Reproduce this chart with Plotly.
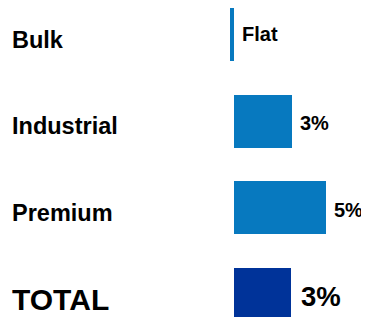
import plotly.graph_objects as go

# ---- data ----
categories = ["Bulk", "Industrial", "Premium", "TOTAL"]
growth_pct = [0.0, 3.05, 4.85, 3.0]          # bar lengths
value_labels = ["Flat", "3%", "5%", "3%"]

# ---- styles ----
BLUE = "#0779BF"
DARK = "#003399"
FONT = "Liberation Sans, Arial, sans-serif"
FLAT_STUB = 0.21
PAGE_MARGIN = 8          # default body margin of the written html page
W, H = 369 - PAGE_MARGIN, 317 - PAGE_MARGIN
ML = 216

colors = [DARK if c == "TOTAL" else BLUE for c in categories]
bar_x = [v if v != 0 else FLAT_STUB for v in growth_pct]
bar_base = [0 if v != 0 else -FLAT_STUB for v in growth_pct]

fig = go.Figure()
fig.add_trace(go.Bar(
    y=categories, x=bar_x, base=bar_base, orientation="h",
    marker=dict(color=colors, line=dict(width=0)),
    width=0.61, hoverinfo="skip", showlegend=False,
))

annotations = []
for cat, v, lab in zip(categories, growth_pct, value_labels):
    big = cat == "TOTAL"
    annotations.append(dict(
        x=-1.476, xref="paper", y=cat, yref="y", text=f"<b>{cat}</b>",
        xanchor="left", yanchor="middle", showarrow=False, yshift=-5,
        font=dict(family=FONT, size=30 if big else 23.5, color="black"),
    ))
    annotations.append(dict(
        x=max(v, 0), xref="x", y=cat, yref="y", text=f"<b>{lab}</b>",
        xanchor="left", yanchor="middle", showarrow=False,
        xshift=8 if big else 6,
        yshift=1 if v == 0 else -2,
        font=dict(family=FONT, size=27.5 if big else 20, color="black"),
    ))

fig.update_layout(
    width=W, height=H,
    margin=dict(l=ML, r=0, t=0, b=0),
    paper_bgcolor="white", plot_bgcolor="white",
    xaxis=dict(range=[-0.54, 7.1], visible=False, fixedrange=True),
    yaxis=dict(range=[3.258, -0.306], visible=False, fixedrange=True,
               categoryorder="array", categoryarray=categories),
    annotations=annotations,
    bargap=0,
)
fig.write_html("out.html")
